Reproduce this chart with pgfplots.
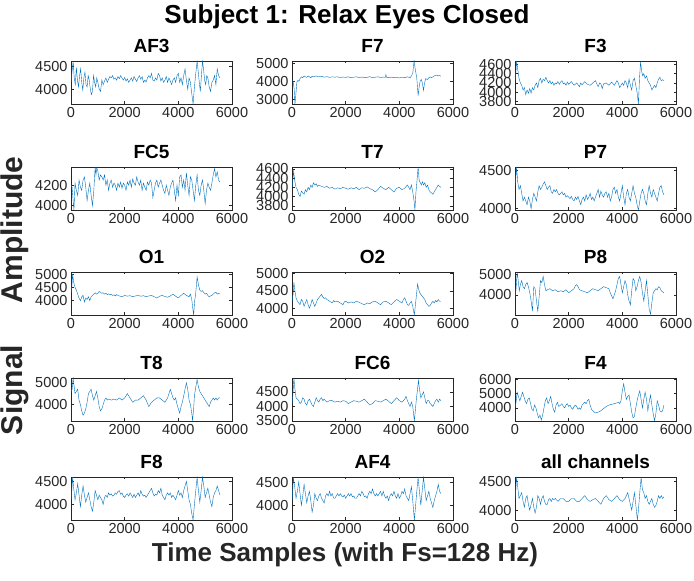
\documentclass[border=0pt]{standalone}
\usepackage{fontspec}
\setmainfont{Liberation Sans}
\usepackage{pgfplots}
\pgfplotsset{compat=1.18}

\definecolor{mblue}{HTML}{0072BD}
\definecolor{axisgray}{HTML}{262626}

\pgfplotsset{
  eeg/.style={
    scale only axis, width=161pt, height=43pt, anchor=north west,
    xmin=0, xmax=6000, xtick={0,2000,4000,6000},
    axis line style={draw=axisgray, line width=0.5pt},
    tick style={draw=axisgray, line width=0.5pt},
    tick align=inside, major tick length=2.5pt,
    xtick pos=both, ytick pos=both, xticklabel pos=lower, yticklabel pos=left,
    ticklabel style={font=\fontsize{14.5}{14.5}\selectfont, text=axisgray},
    scaled ticks=false,
    /pgf/number format/1000 sep={},
    /pgf/number format/assume math mode=true,
    title style={font=\bfseries\fontsize{19}{19}\selectfont, at={(0.5,1)},
      anchor=base, yshift=2pt, inner sep=0pt},
    cycle list={{mblue, line width=0.75pt, mark=none, line join=round}},
  }
}

\begin{document}
\begin{tikzpicture}
\path[use as bounding box] (0,0) rectangle (694pt,581pt);

% row 1
\begin{axis}[eeg, at={(71pt,520pt)}, title={AF3}, ymin=3670, ymax=4625, ytick={4000,4500}]
\addplot coordinates {(0,4150)(40,4400)(80,4620)(120,4250)(160,4100)(200,4480)(240,4200)(280,4050)(320,4300)(360,4450)(400,4150)(440,3980)(480,4250)(520,4380)(560,4100)(600,4050)(640,4300)(680,4200)(720,4000)(760,3880)(800,3950)(840,4300)(880,4150)(920,4050)(960,4250)(1000,4150)(1050,4000)(1100,3950)(1150,4200)(1200,4100)(1250,4180)(1300,4250)(1350,4150)(1400,4220)(1450,4280)(1500,4250)(1550,4300)(1600,4220)(1650,4250)(1700,4200)(1750,4280)(1800,4230)(1850,4300)(1900,4250)(1950,4200)(2000,4260)(2050,4180)(2100,4230)(2150,4150)(2200,4200)(2250,4250)(2300,4180)(2350,4280)(2400,4220)(2450,4170)(2500,4250)(2550,4300)(2600,4220)(2650,4280)(2700,4150)(2750,4200)(2800,4160)(2850,4250)(2900,4300)(2950,4250)(3000,4350)(3050,4200)(3100,4180)(3150,4250)(3200,4200)(3250,4350)(3300,4300)(3350,4180)(3400,4250)(3450,4150)(3500,4200)(3550,4280)(3600,4150)(3650,4250)(3700,4180)(3750,4100)(3800,4200)(3850,4250)(3900,4150)(3950,4300)(4000,4350)(4050,4150)(4100,4250)(4150,4100)(4200,4300)(4250,4450)(4300,4200)(4350,4000)(4400,4250)(4450,4150)(4500,3900)(4550,3670)(4600,4050)(4650,4350)(4700,4620)(4740,4400)(4780,4150)(4820,3950)(4860,4300)(4900,4620)(4940,4450)(4980,4200)(5020,4100)(5060,4300)(5100,4250)(5150,4050)(5200,3950)(5250,4150)(5300,4200)(5350,4300)(5400,4100)(5450,4450)(5500,4300)(5550,4250)};
\end{axis}

\begin{axis}[eeg, at={(292pt,520pt)}, title={F7}, ymin=2740, ymax=5130, ytick={3000,4000,5000}]
\addplot coordinates {(0,4050)(40,4000)(80,3600)(110,2740)(140,3200)(180,3950)(220,4050)(260,4000)(300,4150)(350,4250)(400,4200)(450,4300)(500,4250)(550,4220)(600,4300)(650,4250)(700,4200)(750,4280)(800,4250)(900,4300)(1000,4250)(1100,4280)(1200,4230)(1300,4260)(1400,4220)(1500,4250)(1600,4230)(1700,4250)(1800,4210)(1900,4240)(2000,4220)(2100,4250)(2200,4200)(2300,4230)(2400,4250)(2500,4210)(2600,4240)(2700,4200)(2800,4220)(2900,4260)(3000,4200)(3100,4230)(3200,4250)(3300,4210)(3400,4240)(3480,4220)(3500,4380)(3520,4230)(3600,4200)(3700,4230)(3800,4200)(3900,4220)(4000,4190)(4100,4230)(4200,4200)(4300,4250)(4400,4200)(4450,4300)(4500,4450)(4550,5130)(4600,4600)(4650,4200)(4700,3200)(4740,3700)(4780,4050)(4820,4100)(4860,3900)(4900,3500)(4940,3900)(4980,4150)(5050,4100)(5100,4200)(5150,4250)(5200,4200)(5300,4300)(5400,4350)(5450,4300)(5500,4330)(5550,4280)};
\end{axis}

\begin{axis}[eeg, at={(515pt,520pt)}, title={F3}, ymin=3750, ymax=4670, ytick={3800,4000,4200,4400,4600}]
\addplot coordinates {(0,4250)(30,4400)(60,4670)(100,4500)(150,4300)(200,4200)(250,4150)(300,4050)(350,4100)(400,3950)(450,4050)(500,3980)(550,4080)(600,3980)(650,4100)(700,4050)(750,4150)(800,4200)(850,4100)(900,4250)(950,4300)(1000,4200)(1050,4280)(1100,4250)(1150,4320)(1200,4250)(1250,4200)(1300,4250)(1350,4180)(1400,4220)(1450,4150)(1500,4200)(1550,4180)(1600,4230)(1650,4170)(1700,4220)(1750,4250)(1800,4180)(1850,4200)(1900,4150)(1950,4220)(2000,4170)(2100,4230)(2200,4150)(2300,4200)(2400,4120)(2450,4200)(2500,4160)(2600,4230)(2700,4170)(2800,4150)(2900,4200)(3000,4250)(3050,4180)(3100,4120)(3150,4200)(3200,4180)(3250,4080)(3300,4180)(3400,4200)(3500,4150)(3600,4220)(3700,4150)(3800,4250)(3850,4200)(3900,4100)(4000,4200)(4050,4150)(4100,4250)(4150,4200)(4200,4100)(4250,4280)(4300,4150)(4350,4050)(4400,4250)(4450,4300)(4500,4150)(4550,4000)(4600,3750)(4640,4300)(4680,4650)(4720,4450)(4760,4350)(4800,4400)(4850,4300)(4900,4350)(4950,4250)(5000,4200)(5050,4150)(5100,4050)(5150,4100)(5200,4150)(5250,4100)(5300,4200)(5350,4280)(5400,4320)(5450,4250)(5500,4270)(5550,4250)};
\end{axis}

% row 2
\begin{axis}[eeg, at={(71pt,414pt)}, title={FC5}, ymin=3958, ymax=4377, ytick={4000,4200}]
\addplot coordinates {(0,4200)(40,4180)(80,4050)(110,3958)(150,4220)(200,4150)(250,4100)(300,4250)(350,4180)(400,4150)(450,4250)(500,4280)(550,4180)(600,4050)(650,4150)(700,4220)(750,4100)(800,4000)(850,4150)(900,4377)(930,4300)(960,4370)(1000,4340)(1050,4250)(1100,4300)(1150,4280)(1200,4250)(1250,4300)(1300,4200)(1350,4250)(1400,4150)(1450,4220)(1500,4250)(1550,4180)(1600,4220)(1650,4200)(1700,4150)(1750,4220)(1800,4180)(1850,4230)(1900,4170)(1950,4220)(2000,4200)(2050,4150)(2100,4230)(2150,4200)(2200,4250)(2250,4180)(2300,4260)(2350,4220)(2400,4200)(2450,4280)(2500,4230)(2550,4200)(2600,4250)(2650,4150)(2700,4220)(2750,4180)(2800,4150)(2850,4230)(2900,4200)(2950,4250)(3000,4220)(3050,4080)(3100,4150)(3150,4220)(3200,4250)(3250,4180)(3300,4220)(3350,4250)(3400,4200)(3450,4150)(3500,4120)(3550,4200)(3600,4150)(3650,4100)(3700,4180)(3750,4220)(3800,4250)(3850,4150)(3900,4050)(3950,4200)(4000,4100)(4050,4280)(4100,4300)(4150,4180)(4200,4250)(4250,4150)(4300,4320)(4350,4200)(4400,4100)(4450,4280)(4500,4250)(4550,4150)(4600,4050)(4650,4200)(4700,4300)(4750,4150)(4800,4100)(4850,4200)(4900,4250)(4950,4150)(5000,4020)(5050,4150)(5100,4220)(5150,4180)(5200,4150)(5250,4220)(5300,4300)(5350,4360)(5400,4280)(5450,4330)(5500,4250)(5550,4230)};
\end{axis}

\begin{axis}[eeg, at={(292pt,414pt)}, title={T7}, ymin=3710, ymax=4640, ytick={3800,4000,4200,4400,4600}]
\addplot coordinates {(0,4200)(30,4350)(60,4550)(100,4350)(150,4200)(200,4150)(250,4050)(300,4000)(350,4120)(400,4080)(450,4050)(500,4150)(550,4100)(600,4200)(650,4150)(700,4250)(750,4200)(800,4300)(850,4250)(900,4280)(950,4220)(1000,4250)(1100,4220)(1200,4200)(1300,4220)(1400,4180)(1500,4200)(1600,4160)(1700,4190)(1800,4170)(1900,4200)(2000,4180)(2100,4160)(2200,4190)(2300,4170)(2400,4200)(2500,4150)(2600,4190)(2700,4180)(2800,4210)(2900,4170)(3000,4150)(3100,4100)(3200,4150)(3300,4220)(3400,4180)(3500,4150)(3600,4200)(3700,4150)(3800,4100)(3900,4180)(4000,4200)(4100,4150)(4200,4180)(4300,4250)(4350,4200)(4400,4150)(4450,4250)(4500,4100)(4550,3900)(4580,3710)(4620,4100)(4660,4350)(4700,4640)(4740,4350)(4780,4300)(4820,4250)(4860,4320)(4900,4250)(4950,4300)(5000,4200)(5050,4250)(5100,4150)(5150,4100)(5200,4080)(5250,4050)(5300,4100)(5350,4150)(5400,4200)(5450,4250)(5500,4220)(5550,4200)};
\end{axis}

\begin{axis}[eeg, at={(515pt,414pt)}, title={P7}, ymin=3982, ymax=4544, ytick={4000,4500}]
\addplot coordinates {(0,4300)(30,4400)(60,4544)(100,4350)(150,4250)(200,4300)(250,4200)(300,4100)(350,4150)(400,4100)(450,4050)(500,4150)(550,4100)(600,4000)(650,4120)(700,4200)(750,4150)(800,4100)(850,4220)(900,4300)(950,4250)(1000,4280)(1050,4320)(1100,4350)(1150,4300)(1200,4250)(1250,4280)(1300,4300)(1350,4220)(1400,4200)(1450,4250)(1500,4220)(1550,4250)(1600,4200)(1650,4180)(1700,4200)(1750,4220)(1800,4180)(1850,4200)(1900,4150)(1950,4170)(2000,4150)(2050,4130)(2100,4160)(2150,4120)(2200,4100)(2250,4150)(2300,4120)(2350,4160)(2400,4100)(2450,4050)(2500,4120)(2550,4150)(2600,4100)(2650,4180)(2700,4120)(2750,4150)(2800,4200)(2850,4120)(2900,4150)(2950,4100)(3000,4150)(3050,4200)(3100,4250)(3150,4150)(3200,4230)(3250,4180)(3300,4150)(3350,4200)(3400,4220)(3450,4150)(3500,4200)(3550,4100)(3600,4150)(3650,4250)(3700,4280)(3750,4200)(3800,4250)(3850,4150)(3900,4100)(3950,4200)(4000,4300)(4050,4150)(4100,4050)(4150,4200)(4200,4250)(4250,4150)(4300,4100)(4350,4200)(4400,4300)(4450,4200)(4500,4150)(4550,4050)(4600,3982)(4650,4100)(4700,4200)(4750,4250)(4800,4200)(4850,4100)(4900,4050)(4950,4200)(5000,4300)(5050,4200)(5100,4150)(5150,4250)(5200,4200)(5250,4150)(5300,4100)(5350,4200)(5400,4280)(5450,4300)(5500,4220)(5550,4180)};
\end{axis}

% row 3
\begin{axis}[eeg, at={(71pt,309pt)}, title={O1}, ymin=3460, ymax=5085, ytick={4000,4500,5000}]
\addplot coordinates {(0,4300)(30,4500)(60,5000)(100,4700)(150,4500)(200,4400)(250,4250)(300,4100)(350,4000)(400,4150)(450,4200)(500,3950)(550,4100)(600,4050)(650,4150)(700,4000)(750,4150)(800,4200)(850,4250)(900,4300)(950,4250)(1000,4280)(1050,4350)(1100,4320)(1150,4280)(1200,4300)(1250,4250)(1300,4280)(1350,4230)(1400,4260)(1450,4220)(1500,4250)(1550,4200)(1600,4220)(1650,4180)(1700,4230)(1750,4200)(1800,4180)(1900,4150)(2000,4200)(2100,4170)(2200,4190)(2300,4150)(2400,4180)(2500,4200)(2600,4170)(2700,4190)(2800,4150)(2900,4180)(3000,4200)(3100,4150)(3200,4100)(3300,4170)(3400,4200)(3500,4160)(3600,4130)(3700,4180)(3800,4250)(3900,4170)(4000,4100)(4100,4200)(4200,4280)(4300,4200)(4400,4150)(4450,4250)(4500,4050)(4540,3700)(4570,3460)(4610,4000)(4650,4300)(4700,4900)(4750,4600)(4800,4400)(4850,4350)(4900,4380)(4950,4300)(5000,4250)(5050,4280)(5100,4200)(5150,4150)(5200,4180)(5250,4200)(5300,4250)(5350,4300)(5400,4320)(5450,4250)(5500,4280)(5550,4250)};
\end{axis}

\begin{axis}[eeg, at={(292pt,309pt)}, title={O2}, ymin=3800, ymax=5050, ytick={4000,4500,5000}]
\addplot coordinates {(0,4200)(40,4400)(70,4750)(110,4500)(150,4300)(200,4200)(250,4150)(300,4100)(350,4250)(400,4200)(450,4050)(500,4150)(550,4250)(600,4100)(650,4000)(700,4100)(750,4250)(800,4150)(850,4050)(900,4150)(950,4250)(1000,4300)(1050,4350)(1100,4400)(1150,4320)(1200,4280)(1250,4300)(1300,4250)(1400,4200)(1500,4150)(1550,4220)(1600,4180)(1700,4200)(1800,4150)(1900,4100)(1950,4180)(2000,4200)(2100,4150)(2200,4180)(2300,4150)(2400,4200)(2500,4170)(2600,4130)(2700,4100)(2800,4150)(2900,4130)(3000,4180)(3100,4200)(3200,4150)(3300,4100)(3400,4180)(3500,4200)(3600,4150)(3700,4100)(3800,4180)(3900,4250)(4000,4200)(4100,4150)(4150,4250)(4200,4300)(4250,4200)(4300,4100)(4350,4080)(4400,4150)(4450,4200)(4500,4050)(4560,3800)(4600,4100)(4640,4400)(4680,4700)(4720,4550)(4760,4450)(4800,4400)(4850,4350)(4900,4300)(4950,4250)(5000,4150)(5050,4100)(5100,4050)(5150,4080)(5200,4150)(5250,4200)(5300,4150)(5350,4220)(5400,4180)(5450,4250)(5500,4200)(5550,4200)};
\end{axis}

\begin{axis}[eeg, at={(515pt,309pt)}, title={P8}, ymin=3010, ymax=5120, ytick={4000,5000}]
\addplot coordinates {(0,3900)(40,4300)(80,5100)(120,4700)(160,4200)(200,4500)(250,4700)(300,4400)(350,4300)(400,4500)(450,4600)(500,4400)(550,4100)(600,3700)(650,3200)(700,4400)(750,4300)(800,3700)(850,3200)(900,3900)(950,4700)(1000,4600)(1050,4900)(1100,4500)(1150,4200)(1200,4250)(1300,4300)(1400,4200)(1500,4250)(1600,4150)(1700,4200)(1800,4150)(1900,4250)(2000,4100)(2100,4200)(2200,4300)(2250,4450)(2300,4500)(2350,4400)(2400,4250)(2500,4200)(2600,4150)(2700,4100)(2800,4200)(2900,4300)(3000,4250)(3100,4200)(3200,4300)(3300,4400)(3400,4350)(3500,4300)(3550,4100)(3650,3800)(3700,4000)(3750,4200)(3800,4500)(3850,4800)(3900,4900)(3950,4500)(4000,4100)(4050,4400)(4100,4700)(4150,4500)(4200,4000)(4250,3700)(4300,3500)(4350,4200)(4400,4800)(4450,4700)(4500,4200)(4550,4400)(4600,4700)(4650,4900)(4700,4600)(4750,4100)(4800,3700)(4850,4200)(4900,4700)(4950,4000)(5000,3300)(5050,3050)(5100,3600)(5150,4100)(5200,4200)(5250,4300)(5300,4250)(5350,4400)(5400,4350)(5450,4200)(5500,4150)(5550,4100)};
\end{axis}

% row 4
\begin{axis}[eeg, at={(71pt,203pt)}, title={T8}, ymin=3235, ymax=5220, ytick={4000,5000}]
\addplot coordinates {(0,4600)(40,4700)(80,5220)(120,4800)(150,4500)(200,4600)(250,4700)(300,4200)(350,4000)(400,3700)(450,3500)(500,3600)(550,3800)(600,4100)(650,4500)(700,4600)(750,4700)(800,4400)(850,4200)(900,4400)(950,4600)(1000,4300)(1050,3900)(1100,3700)(1150,3800)(1200,4000)(1250,4200)(1300,4300)(1350,4200)(1400,4250)(1500,4200)(1600,4250)(1700,4200)(1800,4300)(1900,4200)(2000,4300)(2100,4500)(2200,4300)(2300,4100)(2400,4200)(2500,4200)(2600,4300)(2700,4400)(2800,4200)(2900,3900)(3000,4100)(3100,4200)(3200,4300)(3300,4300)(3400,4200)(3500,4100)(3600,4300)(3700,4700)(3750,4500)(3800,4300)(3850,4200)(3900,4300)(3950,4000)(4000,3800)(4050,3600)(4100,3900)(4150,4100)(4200,4400)(4250,4700)(4300,5000)(4350,4700)(4400,4200)(4450,4000)(4500,3600)(4530,3250)(4570,3800)(4600,4400)(4650,4800)(4700,5150)(4750,4800)(4800,4600)(4850,4500)(4900,4400)(4950,4300)(5000,4200)(5050,4100)(5100,4000)(5150,3900)(5200,4100)(5250,4200)(5300,4300)(5350,4200)(5400,4300)(5450,4200)(5500,4300)(5550,4300)};
\end{axis}

\begin{axis}[eeg, at={(292pt,203pt)}, title={FC6}, ymin=3500, ymax=4980, ytick={3500,4000,4500}]
\addplot coordinates {(0,4100)(35,4400)(70,4980)(110,4600)(150,4300)(200,4250)(250,4200)(300,4100)(350,4150)(400,4300)(450,4250)(500,4100)(550,4050)(600,4200)(650,4250)(700,4150)(750,4050)(800,4000)(850,4150)(900,4300)(950,4200)(1000,4150)(1050,4250)(1100,4300)(1150,4200)(1200,4250)(1300,4150)(1400,4200)(1500,4200)(1600,4150)(1700,4180)(1800,4150)(1900,4200)(2000,4180)(2100,4100)(2200,4150)(2300,4200)(2400,4180)(2500,4150)(2600,4200)(2700,4250)(2800,4150)(2900,4050)(3000,4100)(3100,4200)(3200,4180)(3300,4150)(3400,4200)(3500,4250)(3600,4180)(3700,4100)(3800,4200)(3900,4300)(4000,4200)(4100,4150)(4200,4250)(4250,4350)(4300,4200)(4350,4100)(4400,4000)(4450,4150)(4500,4000)(4560,3500)(4600,3900)(4640,4300)(4680,4600)(4710,4900)(4750,4600)(4800,4300)(4850,4400)(4900,4500)(4950,4300)(5000,4100)(5050,4200)(5100,4200)(5150,4100)(5200,4050)(5250,4000)(5300,4100)(5350,4200)(5400,4250)(5450,4150)(5500,4250)(5550,4200)};
\end{axis}

\begin{axis}[eeg, at={(515pt,203pt)}, title={F4}, ymin=3080, ymax=6100, ytick={4000,5000,6000}]
\addplot coordinates {(0,4000)(40,4400)(80,5100)(130,4800)(180,4500)(230,4800)(280,5100)(330,4800)(380,4500)(430,4300)(480,4600)(530,4700)(580,4300)(630,3900)(680,3800)(730,4200)(780,4000)(830,3600)(880,3300)(930,3500)(980,3150)(1030,3500)(1080,4000)(1130,4500)(1180,4700)(1230,4300)(1280,4500)(1330,4800)(1380,4300)(1430,3900)(1480,3700)(1530,4200)(1580,4400)(1630,4100)(1700,4200)(1750,4300)(1800,4100)(1850,4000)(1900,4200)(1950,4300)(2000,4100)(2050,4200)(2100,4000)(2150,3900)(2200,4100)(2250,4200)(2300,4100)(2350,3900)(2400,4000)(2450,3900)(2500,4200)(2550,4300)(2600,4400)(2650,4300)(2700,4500)(2750,4600)(2800,4200)(2850,3900)(2900,3800)(2950,3700)(3000,3650)(3100,3700)(3200,3800)(3300,3950)(3400,4100)(3500,4200)(3600,4250)(3700,4300)(3800,4350)(3850,4400)(3900,4300)(3950,4500)(4000,5200)(4050,5700)(4100,5100)(4150,4600)(4200,4800)(4250,4900)(4300,4300)(4350,3700)(4400,3300)(4450,3400)(4500,4000)(4550,4500)(4600,4900)(4650,5200)(4700,4600)(4750,4000)(4800,4600)(4850,5100)(4900,4600)(4950,3800)(5000,4400)(5050,4900)(5100,4200)(5150,3600)(5200,3100)(5250,3600)(5300,4500)(5350,4200)(5400,3800)(5450,3700)(5500,3800)(5550,4200)};
\end{axis}

% row 5
\begin{axis}[eeg, at={(71pt,104pt)}, title={F8}, ymin=3660, ymax=4595, ytick={4000,4500}]
\addplot coordinates {(0,4100)(30,4300)(60,4590)(100,4350)(150,4100)(200,4250)(250,4450)(300,4200)(350,3950)(400,4200)(450,4400)(500,4200)(550,4050)(600,4150)(650,4250)(700,4100)(750,3950)(800,3850)(850,4050)(900,4300)(950,4200)(1000,4100)(1050,4200)(1100,4150)(1150,4100)(1200,4000)(1250,4150)(1300,4200)(1350,4150)(1400,4250)(1450,4200)(1500,4230)(1550,4180)(1600,4200)(1650,4250)(1700,4220)(1750,4280)(1800,4300)(1850,4220)(1900,4250)(1950,4180)(2000,4150)(2050,4200)(2100,4230)(2150,4180)(2200,4250)(2250,4200)(2300,4150)(2350,4220)(2400,4150)(2450,4200)(2500,4250)(2550,4180)(2600,4300)(2650,4220)(2700,4180)(2750,4200)(2800,4150)(2850,4200)(2900,4250)(2950,4300)(3000,4350)(3050,4250)(3100,4180)(3150,4220)(3200,4200)(3250,4300)(3300,4250)(3350,4350)(3400,4200)(3450,4150)(3500,4100)(3550,4200)(3600,4250)(3650,4200)(3700,4250)(3750,4150)(3800,4200)(3850,4150)(3900,4100)(3950,4200)(4000,4300)(4050,4200)(4100,4250)(4150,4150)(4200,4300)(4250,4400)(4300,4500)(4350,4300)(4400,4100)(4450,4000)(4500,3800)(4550,3660)(4600,4000)(4650,4300)(4700,4590)(4750,4300)(4800,4050)(4850,4300)(4900,4590)(4950,4400)(5000,4150)(5050,4250)(5100,4350)(5150,4200)(5200,4050)(5250,3950)(5300,4150)(5350,4250)(5400,4300)(5450,4400)(5500,4300)(5550,4200)};
\end{axis}

\begin{axis}[eeg, at={(292pt,104pt)}, title={AF4}, ymin=3680, ymax=4610, ytick={4000,4500}]
\addplot coordinates {(0,4100)(25,4300)(50,4600)(100,4400)(150,4150)(200,4300)(250,4500)(300,4250)(350,4000)(400,4200)(450,4450)(500,4250)(550,4050)(600,4200)(650,4300)(700,4100)(750,3850)(800,4000)(850,4250)(900,4150)(950,4100)(1000,4200)(1050,4250)(1100,4150)(1150,4100)(1200,4050)(1250,4200)(1300,4250)(1350,4200)(1400,4300)(1450,4200)(1500,4250)(1550,4150)(1600,4150)(1650,4200)(1700,4250)(1750,4200)(1800,4250)(1850,4200)(1900,4180)(1950,4220)(2000,4150)(2050,4200)(2100,4250)(2150,4200)(2200,4250)(2250,4180)(2300,4200)(2350,4150)(2400,4150)(2450,4200)(2500,4250)(2550,4200)(2600,4300)(2650,4250)(2700,4180)(2750,4200)(2800,4150)(2850,4250)(2900,4300)(2950,4250)(3000,4350)(3050,4250)(3100,4200)(3150,4250)(3200,4200)(3250,4250)(3300,4300)(3350,4200)(3400,4300)(3450,4200)(3500,4150)(3550,4200)(3600,4100)(3650,4200)(3700,4250)(3750,4200)(3800,4300)(3850,4200)(3900,4150)(3950,4250)(4000,4150)(4050,4200)(4100,4300)(4150,4250)(4200,4350)(4250,4200)(4300,4150)(4350,4100)(4400,4250)(4450,4400)(4500,4100)(4560,3680)(4600,3950)(4650,4300)(4700,4600)(4750,4300)(4800,4000)(4850,4300)(4900,4600)(4950,4350)(5000,4100)(5050,4200)(5100,4300)(5150,4150)(5200,4050)(5250,3950)(5300,4100)(5350,4200)(5400,4300)(5450,4450)(5500,4300)(5550,4250)};
\end{axis}

\begin{axis}[eeg, at={(515pt,104pt)}, title={all channels}, ymin=3830, ymax=4570, ytick={4000,4500}]
\addplot coordinates {(0,4200)(30,4350)(60,4570)(100,4400)(150,4200)(200,4250)(250,4300)(300,4150)(350,4050)(400,4200)(450,4250)(500,4100)(550,4000)(600,4100)(650,4200)(700,4050)(750,3950)(800,4050)(850,4250)(900,4200)(950,4100)(1000,4200)(1050,4250)(1100,4150)(1150,4100)(1200,4100)(1250,4180)(1300,4200)(1350,4150)(1400,4200)(1450,4180)(1500,4200)(1600,4150)(1700,4200)(1800,4200)(1900,4150)(2000,4150)(2100,4200)(2200,4200)(2300,4150)(2400,4150)(2500,4200)(2600,4250)(2700,4180)(2800,4150)(2900,4180)(3000,4200)(3100,4150)(3200,4100)(3300,4200)(3400,4250)(3500,4180)(3600,4150)(3700,4200)(3800,4250)(3900,4180)(4000,4150)(4100,4200)(4200,4300)(4250,4200)(4300,4100)(4350,4000)(4400,4150)(4450,4300)(4500,4100)(4560,3830)(4600,4000)(4650,4300)(4700,4560)(4750,4350)(4800,4300)(4850,4200)(4900,4250)(4950,4150)(5000,4100)(5050,4150)(5100,4200)(5150,4100)(5200,4050)(5250,4080)(5300,4150)(5350,4250)(5400,4200)(5450,4250)(5500,4200)(5550,4230)};
\end{axis}

% overall labels
\node[font=\bfseries\fontsize{26}{26}\selectfont] at (347pt,564pt) {Subject 1: Relax Eyes Closed};
\node[font=\bfseries\fontsize{26}{26}\selectfont, text=axisgray] at (345pt,26pt) {Time Samples (with Fs=128 Hz)};
\node[font=\bfseries\fontsize{30}{30}\selectfont, text=axisgray, rotate=90] at (15pt,351pt) {Amplitude};
\node[font=\bfseries\fontsize{30}{30}\selectfont, text=axisgray, rotate=90] at (15pt,191pt) {Signal};
\end{tikzpicture}
\end{document}
